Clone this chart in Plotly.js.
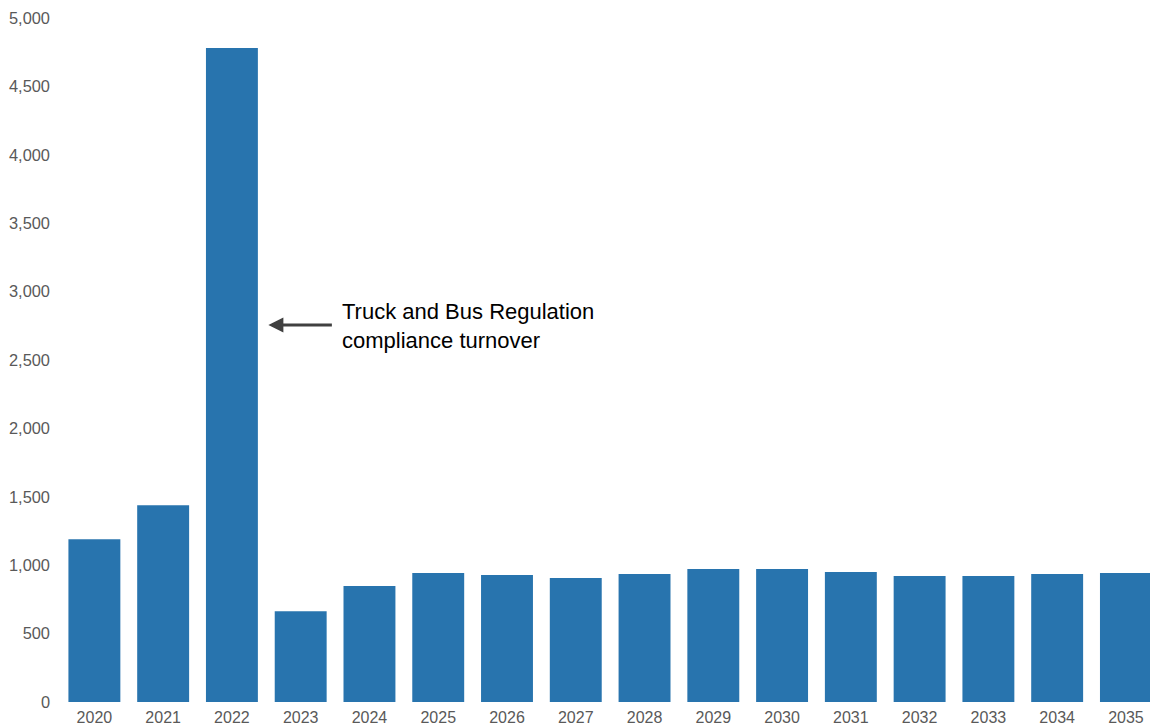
<!DOCTYPE html>
<html>
<head>
<meta charset="utf-8">
<script src="https://cdn.plot.ly/plotly-3.0.1.min.js"></script>
<style>html,body{margin:0;padding:0;background:#fff;}#chart{width:1150px;height:726px;}</style>
</head>
<body>
<div id="chart"></div>
<script>
const years = ["2020","2021","2022","2023","2024","2025","2026","2027","2028","2029","2030","2031","2032","2033","2034","2035"];
const values = [1189, 1438, 4781, 663, 848, 943, 928, 906, 936, 972, 972, 950, 921, 921, 936, 943];
const yTickVals = [0,500,1000,1500,2000,2500,3000,3500,4000,4500,5000];
const annotationText = "Truck and Bus Regulation<br>compliance turnover";

const trace = {
  type: 'bar',
  x: years,
  y: values,
  marker: {color: '#2874ae'},
  hoverinfo: 'x+y'
};

const layout = {
  width: 1150, height: 726,
  margin: {l: 60, r: 0, t: 18, b: 24, pad: 0},
  paper_bgcolor: '#ffffff', plot_bgcolor: '#ffffff',
  bargap: 0.245,
  showlegend: false,
  font: {family: 'Liberation Sans, Arial, sans-serif', size: 16, color: '#595959'},
  xaxis: {
    type: 'category',
    range: [-0.5, 15.35],
    showgrid: false, zeroline: false, showline: false,
    ticks: '', tickfont: {size: 16, color: '#595959'},
    ticklabelstandoff: 4
  },
  yaxis: {
    range: [0, 5000],
    tickvals: yTickVals,
    tickformat: ',d',
    showgrid: false, zeroline: false, showline: false,
    ticks: '', tickfont: {size: 16.4, color: '#595959'},
    ticklabelstandoff: 9
  },
  annotations: [
    {
      x: 2.53, y: 2756, xref: 'x', yref: 'y',
      ax: 65, ay: 0, axref: 'pixel', ayref: 'pixel',
      text: '', showarrow: true,
      arrowhead: 2, arrowsize: 1, arrowwidth: 3, arrowcolor: '#404040'
    },
    {
      x: 3.576, y: 2745, xref: 'x', yref: 'y',
      xanchor: 'left', yanchor: 'middle', align: 'left',
      text: annotationText, showarrow: false,
      font: {family: 'Liberation Sans, Arial, sans-serif', size: 22, color: '#000000'}
    }
  ]
};

Plotly.newPlot('chart', [trace], layout, {displayModeBar: false, staticPlot: true});
</script>
</body>
</html>
